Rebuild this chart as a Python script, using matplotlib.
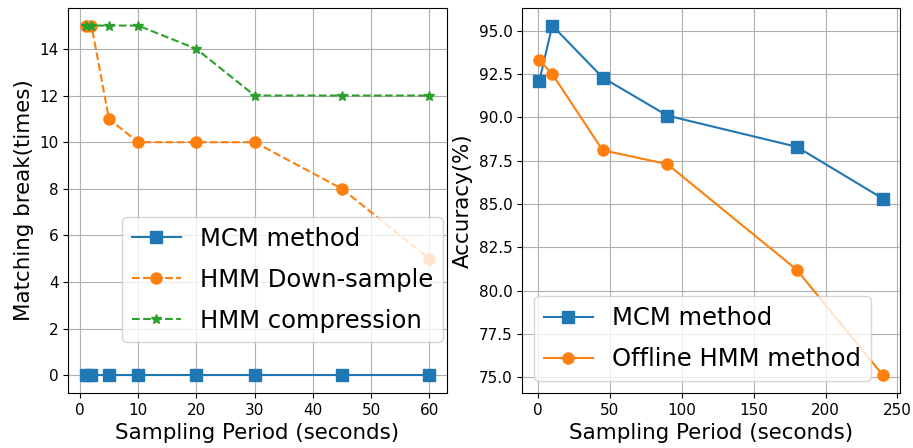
import matplotlib.pyplot as plt

# dados - grafico da esquerda
periodo_a = [1, 2, 5, 10, 20, 30, 45, 60]
mcm_quebras = [0, 0, 0, 0, 0, 0, 0, 0]
hmm_down = [15, 15, 11, 10, 10, 10, 8, 5]
hmm_comp = [15, 15, 15, 15, 14, 12, 12, 12]

# dados - grafico da direita
periodo_b = [1, 10, 45, 90, 180, 240]
mcm_acc = [92.1, 95.3, 92.3, 90.1, 88.3, 85.3]
hmm_acc = [93.3, 92.5, 88.1, 87.3, 81.2, 75.1]

fig, (ax1, ax2) = plt.subplots(1, 2, figsize=(9.13, 4.48), dpi=100)

ax1.plot(periodo_a, mcm_quebras, marker='s', markersize=8, linewidth=1.5, label='MCM method')
ax1.plot(periodo_a, hmm_down, marker='o', markersize=8, linestyle='--', linewidth=1.5, label='HMM Down-sample')
ax1.plot(periodo_a, hmm_comp, marker='*', markersize=7, linestyle='--', linewidth=1.5, label='HMM compression')
ax1.set_xlabel('Sampling Period (seconds)', fontsize=15.4)
ax1.set_ylabel('Matching break(times)', fontsize=15.4)
ax1.tick_params(labelsize=11)
ax1.grid(True)
ax1.legend(fontsize=17.5, labelspacing=0.7, loc='lower right', bbox_to_anchor=(1.023, 0.10))

ax2.plot(periodo_b, mcm_acc, marker='s', markersize=8, linewidth=1.5, label='MCM method')
ax2.plot(periodo_b, hmm_acc, marker='o', markersize=8, linewidth=1.5, label='Offline HMM method')
ax2.set_xlabel('Sampling Period (seconds)', fontsize=15.4)
ax2.set_ylabel('Accuracy(%)', fontsize=15.4)
ax2.tick_params(labelsize=11)
ax2.grid(True)
ax2.legend(fontsize=17.5, labelspacing=0.7, loc='lower left')

plt.subplots_adjust(left=0.075, right=0.986, top=0.982, bottom=0.123, wspace=0.2)
plt.savefig('out.png')
